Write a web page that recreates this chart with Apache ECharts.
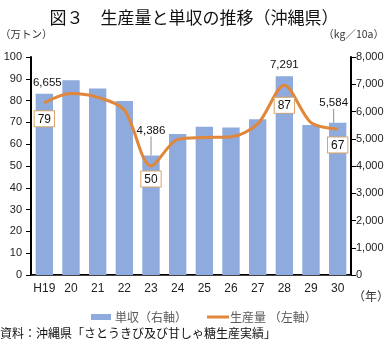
<!DOCTYPE html>
<html><head><meta charset="utf-8">
<script src="https://cdn.jsdelivr.net/npm/echarts@6/dist/echarts.min.js"></script>
<style>html,body{margin:0;padding:0;background:#fff}#c{width:388px;height:343px}</style>
</head><body><div id="c"></div>
<script>
const categories = ['H19','20','21','22','23','24','25','26','27','28','29','30'];
const yieldValues = [6655, 7150, 6840, 6385, 4386, 5175, 5440, 5415, 5715, 7291, 5505, 5584]; // 単収 kg/10a (right axis)
const productionValues = [79, 83.2, 81.5, 75.7, 50, 62.2, 63.1, 63.4, 69.3, 87, 69.9, 67]; // 生産量 万トン (left axis)
const leftTicks = {min: 0, max: 100, interval: 10};
const rightTicks = {min: 0, max: 8000, interval: 1000};
const barLabelIdx = [0, 4, 9, 11];
const lineLabelIdx = [0, 4, 9, 11];

const FONT = '"Noto Sans CJK JP", "Noto Sans", sans-serif';
const NUMFONT = '"Liberation Sans", "Noto Sans", sans-serif';
const barData = yieldValues.map((v, i) => {
  const o = {value: v};
  if (barLabelIdx.includes(i)) {
    o.label = {show: true};
    if (i === 4 || i === 11) o.labelLine = {show: true, lineStyle: {color: '#8c8c8c', width: 1}};
  }
  return o;
});
const lineDist = {0: 8, 4: 5, 9: 12, 11: 8};
const lineData = productionValues.map((v, i) => {
  const o = {value: v};
  if (lineLabelIdx.includes(i)) o.label = {show: true, distance: lineDist[i]};
  return o;
});

const chart = echarts.init(document.getElementById('c'), null, {renderer: 'canvas'});
chart.setOption({
  animation: false,
  textStyle: {fontFamily: FONT},
  title: {
    text: '図３　生産量と単収の推移（沖縄県）',
    left: 'center', top: 4,
    textStyle: {fontSize: 17, fontWeight: 'normal', color: '#111', fontFamily: FONT}
  },
  graphic: [
    {type: 'text', left: 0, top: 29, style: {text: '（万トン）', fill: '#333', font: '10.5px ' + FONT}},
    {type: 'text', right: 4, top: 29, style: {text: '（kg／10a）', fill: '#333', font: '10.5px ' + FONT}},
    {type: 'text', left: 353, top: 290, style: {text: '（年）', fill: '#333', font: '12px ' + FONT}},
    {type: 'text', left: 0, top: 327, style: {text: '資料：沖縄県「さとうきび及び甘しゃ糖生産実績」', fill: '#111', font: '12px ' + FONT}}
  ],
  legend: [
    {data: ['単収（右軸）'], left: 86, top: 306, itemWidth: 20, itemHeight: 6, icon: 'rect',
     textStyle: {fontSize: 12, color: '#595959', fontFamily: FONT, padding: [0, 0, 0, -1]}},
    {data: ['生産量 （左軸）'], left: 202, top: 306, itemWidth: 22, itemHeight: 3, icon: 'rect',
     textStyle: {fontSize: 12, color: '#595959', fontFamily: FONT, padding: [0, 0, 0, -4]}}
  ],
  grid: {left: 31, right: 37, top: 57, bottom: 68},
  xAxis: [
    {type: 'category', data: categories, position: 'bottom',
     axisLine: {show: true, lineStyle: {color: '#000', width: 2}},
     axisTick: {show: false},
     axisLabel: {interval: 0, color: '#222', fontSize: 12, margin: 8, fontFamily: NUMFONT}},
    {type: 'category', data: categories, position: 'top',
     axisLine: {show: true, lineStyle: {color: '#444', width: 1}},
     axisTick: {show: false}, axisLabel: {show: false}}
  ],
  yAxis: [
    {type: 'value', min: leftTicks.min, max: leftTicks.max, interval: leftTicks.interval, position: 'left',
     axisLine: {show: true, lineStyle: {color: '#000', width: 2}},
     axisTick: {show: true, length: 5, lineStyle: {color: '#000'}},
     splitLine: {show: false},
     axisLabel: {color: '#222', fontSize: 11, margin: 9, fontFamily: NUMFONT}},
    {type: 'value', min: rightTicks.min, max: rightTicks.max, interval: rightTicks.interval, position: 'right',
     axisLine: {show: true, lineStyle: {color: '#000', width: 2}},
     axisTick: {show: true, length: 5, lineStyle: {color: '#000'}},
     splitLine: {show: false},
     axisLabel: {color: '#222', fontSize: 11, margin: 5, fontFamily: NUMFONT,
       formatter: v => v.toLocaleString('en-US')}}
  ],
  series: [
    {name: '単収（右軸）', type: 'bar', xAxisIndex: 0, yAxisIndex: 1, data: barData,
     barCategoryGap: '35%',
     itemStyle: {color: '#8FAADC'},
     label: {show: false, position: 'top', distance: 5, color: '#111', fontSize: 11.5, fontFamily: NUMFONT,
       formatter: p => p.value.toLocaleString('en-US')},
     labelLayout: function (p) {
       if (p.dataIndex === 0) return {dx: 3};
       if (p.dataIndex === 4) return {dy: -14};
       if (p.dataIndex === 11) return {dx: -4, dy: -9};
       return {};
     }},
    {name: '生産量 （左軸）', type: 'line', xAxisIndex: 0, yAxisIndex: 0, data: lineData,
     smooth: 0.3, symbol: 'circle', symbolSize: 1, showSymbol: true, z: 5,
     lineStyle: {color: '#E0873C', width: 3},
     itemStyle: {color: '#E0873C'},
     label: {show: false, position: 'bottom', color: '#111', fontSize: 12, fontFamily: NUMFONT,
       backgroundColor: '#fff', borderColor: '#D9A56A', borderWidth: 1, padding: [2, 3, 1, 3]}}
  ]
});
</script></body></html>
